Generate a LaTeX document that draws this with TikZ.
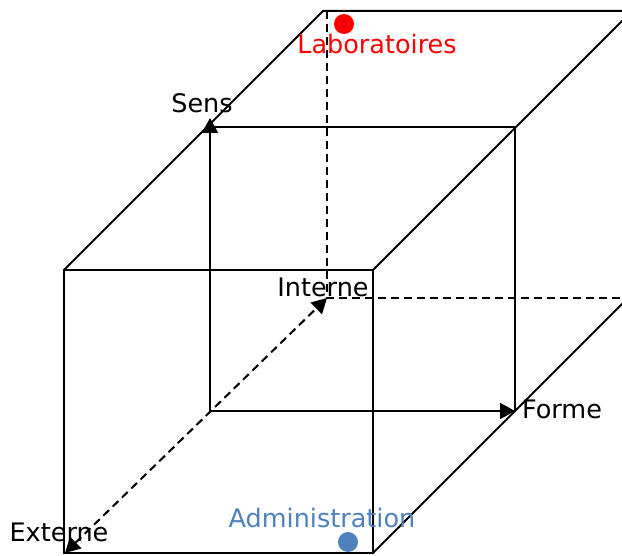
\documentclass[tikz,border=0pt]{standalone}
\usepackage{fontspec}
\setmainfont{DejaVu Sans}
\usetikzlibrary{arrows.meta}
\definecolor{adminblue}{RGB}{79,129,189}
\tikzset{
  edge/.style={line width=2pt, line cap=butt},
  hidden/.style={edge, dash pattern=on 8pt off 5pt},
  axis/.style={edge, -{Triangle[length=15pt,width=16pt]}},
  lbl/.style={font=\fontsize{25.5}{30}\selectfont, inner sep=0pt, anchor=base},
  dot/.style={circle, inner sep=0pt, minimum size=20pt}
}
\begin{document}
\begin{tikzpicture}[x=1pt,y=-1pt]
\useasboundingbox (0,0) rectangle (622,556);
\clip (0,0) rectangle (622,556);
% front face
\coordinate (F1) at (64,270);
\coordinate (F2) at (373,270);
\coordinate (F3) at (373,553);
\coordinate (F4) at (64,553);
% back face
\coordinate (B1) at (323,11);
\coordinate (B2) at (632,11);
\coordinate (B3) at (632,294);
\coordinate (BV1) at (327,11);
\coordinate (BV2) at (327,298);
\coordinate (BH) at (640,298);
% inner section
\coordinate (I1) at (210,127);
\coordinate (I2) at (515,127);
\coordinate (I3) at (515,411);
\coordinate (I4) at (210,411);
\coordinate (Stip) at (210,118);
\coordinate (Ex) at (65,553);

\draw[edge] (F1) -- (F2) -- (F3) -- (F4) -- cycle;
\draw[edge] (F1) -- (B1) -- (B2);
\draw[edge] (F2) -- (B2);
\draw[edge] (F3) -- (B3);
\draw[hidden] (BV1) -- (BV2) -- (BH);

\draw[edge] (I1) -- (I2) -- (I3);
\draw[axis] (I4) -- (Stip);
\draw[axis] (I4) -- (I3);
\draw[hidden, {Triangle[length=15pt,width=16pt]}-{Triangle[length=15pt,width=16pt]}] (Ex) -- (BV2);

\node[lbl] (sens) at (202,113) {Sens};
\node[lbl] (forme) at (562,419) {Forme};
\node[lbl] (interne) at (323,297) {Interne};
\node[lbl] (externe) at (59,541) {Externe};
\node[lbl, text=red] (labo) at (377,54) {Laboratoires};
\node[lbl, text=adminblue] (admin) at (322,527) {Administration};
\node[dot, fill=red] (labodot) at (344,24) {};
\node[dot, fill=adminblue] (admindot) at (348,542) {};
\end{tikzpicture}
\end{document}
